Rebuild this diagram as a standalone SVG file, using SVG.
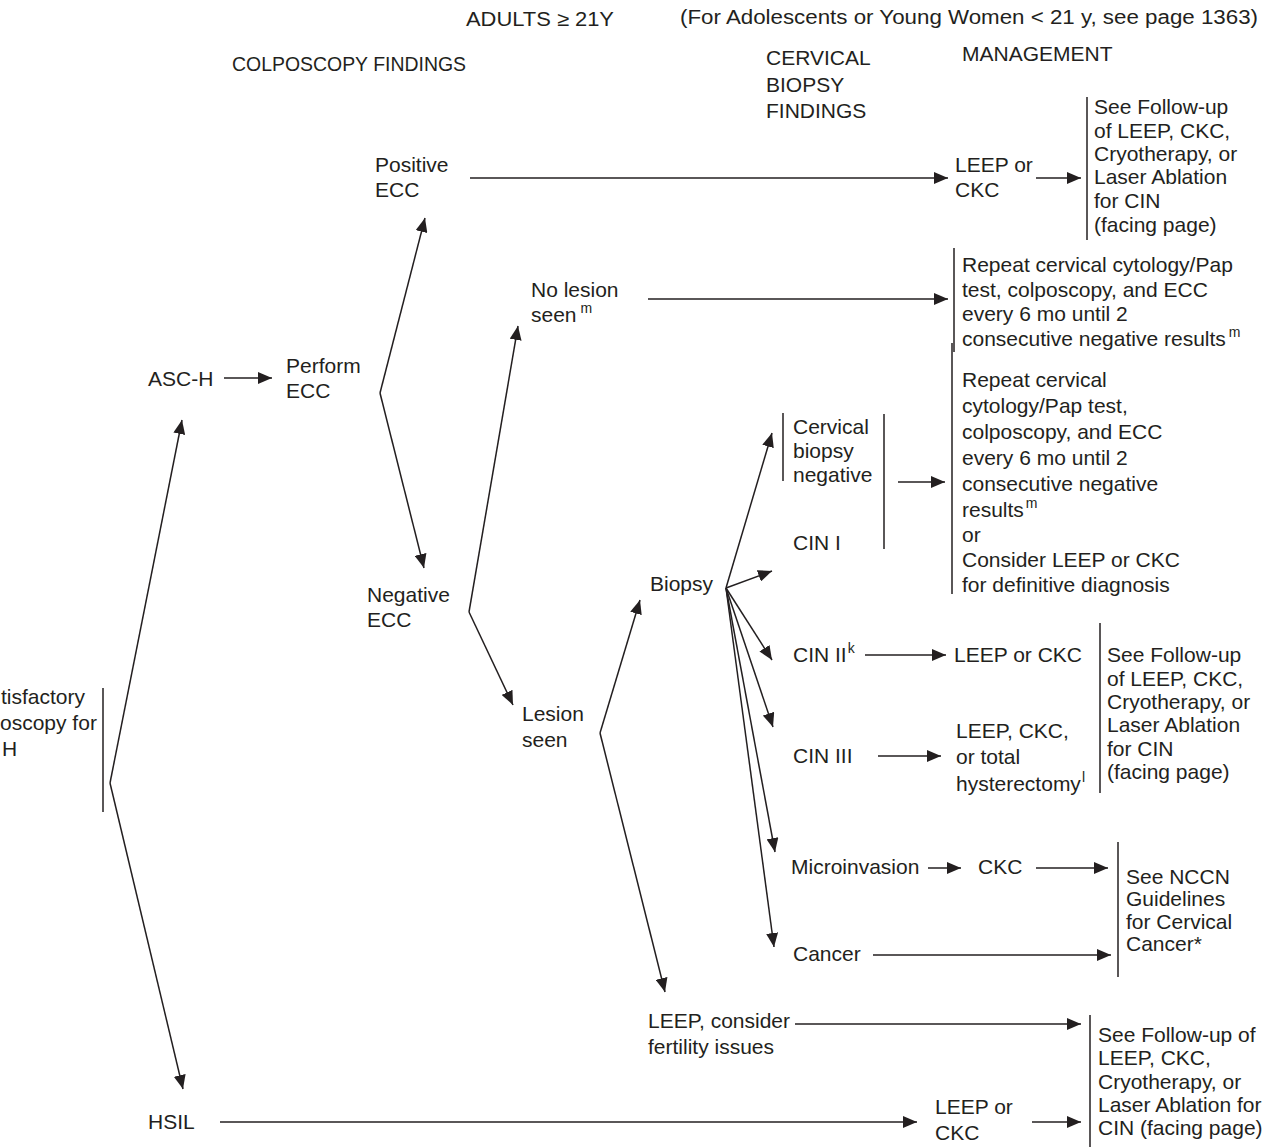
<svg xmlns="http://www.w3.org/2000/svg" width="1281" height="1147" viewBox="0 0 1281 1147">
<defs>
<marker id="ah" markerUnits="userSpaceOnUse" markerWidth="14" markerHeight="12" refX="14" refY="6" orient="auto">
<path d="M0,0 L14,6 L0,12 z" fill="#231f20"/>
</marker>
<style>
text{font-family:"Liberation Sans",Arial,sans-serif;font-size:21px;fill:#231f20}
.hd{font-size:20px}
.sup{font-size:14px}
.c line,.c polyline{stroke:#231f20;stroke-width:1.5;fill:none}
.a{marker-end:url(#ah)}
.bar{stroke:#231f20;stroke-width:1.5}
</style>
</defs>
<rect width="1281" height="1147" fill="#fff"/>

<g id="headers">
<text class="hd" x="466" y="26" textLength="148" lengthAdjust="spacingAndGlyphs">ADULTS ≥ 21Y</text>
<text class="hd" x="680" y="24" textLength="578" lengthAdjust="spacingAndGlyphs">(For Adolescents or Young Women &lt; 21 y, see page 1363)</text>
<text class="hd" x="232" y="71" textLength="234" lengthAdjust="spacingAndGlyphs">COLPOSCOPY FINDINGS</text>
<text x="766" y="65">CERVICAL</text>
<text x="766" y="92">BIOPSY</text>
<text x="766" y="118">FINDINGS</text>
<text x="962" y="61">MANAGEMENT</text>
</g>

<g id="n-unsat">
<text x="1" y="704">tisfactory</text>
<text x="0" y="730">oscopy for</text>
<text x="2" y="756">H</text>
<line class="bar" x1="103" y1="688" x2="103" y2="812"/>
</g>
<g id="n-asch"><text x="148" y="386">ASC-H</text></g>
<g id="n-perform"><text x="286" y="373">Perform</text><text x="286" y="398">ECC</text></g>
<g id="n-posecc"><text x="375" y="172">Positive</text><text x="375" y="197">ECC</text></g>
<g id="n-leep1"><text x="955" y="172">LEEP or</text><text x="955" y="197">CKC</text></g>
<g id="n-fu1">
<line class="bar" x1="1087" y1="97" x2="1087" y2="240"/>
<text x="1094" y="114">See Follow-up</text>
<text x="1094" y="138">of LEEP, CKC,</text>
<text x="1094" y="161">Cryotherapy, or</text>
<text x="1094" y="184">Laser Ablation</text>
<text x="1094" y="208">for CIN</text>
<text x="1094" y="232">(facing page)</text>
</g>
<g id="n-negecc"><text x="367" y="602">Negative</text><text x="367" y="627">ECC</text></g>
<g id="n-nolesion"><text x="531" y="297">No lesion</text><text x="531" y="322">seen<tspan class="sup" dx="4" dy="-9">m</tspan></text></g>
<g id="n-repeat1">
<line class="bar" x1="954" y1="248" x2="954" y2="352"/>
<text x="962" y="272">Repeat cervical cytology/Pap</text>
<text x="962" y="297">test, colposcopy, and ECC</text>
<text x="962" y="321">every 6 mo until 2</text>
<text x="962" y="346">consecutive negative results<tspan class="sup" dx="3" dy="-9">m</tspan></text>
</g>
<g id="n-lesion"><text x="522" y="721">Lesion</text><text x="522" y="747">seen</text></g>
<g id="n-biopsy"><text x="650" y="591">Biopsy</text></g>
<g id="n-cbneg">
<line class="bar" x1="783" y1="413" x2="783" y2="481"/>
<text x="793" y="434">Cervical</text>
<text x="793" y="458">biopsy</text>
<text x="793" y="482">negative</text>
<text x="793" y="550">CIN I</text>
<line class="bar" x1="884" y1="414" x2="884" y2="549"/>
</g>
<g id="n-repeat2">
<line class="bar" x1="952" y1="343" x2="952" y2="594"/>
<text x="962" y="387">Repeat cervical</text>
<text x="962" y="413">cytology/Pap test,</text>
<text x="962" y="439">colposcopy, and ECC</text>
<text x="962" y="465">every 6 mo until 2</text>
<text x="962" y="491">consecutive negative</text>
<text x="962" y="517">results<tspan class="sup" dx="2" dy="-9">m</tspan></text>
<text x="962" y="542">or</text>
<text x="962" y="567">Consider LEEP or CKC</text>
<text x="962" y="592">for definitive diagnosis</text>
</g>
<g id="n-cin2"><text x="793" y="662">CIN II<tspan class="sup" dx="1" dy="-9">k</tspan></text></g>
<g id="n-leep2"><text x="954" y="662">LEEP or CKC</text></g>
<g id="n-cin3"><text x="793" y="763">CIN III</text></g>
<g id="n-leep3">
<text x="956" y="738">LEEP, CKC,</text>
<text x="956" y="764">or total</text>
<text x="956" y="791">hysterectomy<tspan class="sup" dx="1" dy="-9">l</tspan></text>
</g>
<g id="n-fu2">
<line class="bar" x1="1100" y1="623" x2="1100" y2="793"/>
<text x="1107" y="662">See Follow-up</text>
<text x="1107" y="686">of LEEP, CKC,</text>
<text x="1107" y="709">Cryotherapy, or</text>
<text x="1107" y="732">Laser Ablation</text>
<text x="1107" y="756">for CIN</text>
<text x="1107" y="779">(facing page)</text>
</g>
<g id="n-micro"><text x="791" y="874">Microinvasion</text></g>
<g id="n-ckc"><text x="978" y="874">CKC</text></g>
<g id="n-cancer"><text x="793" y="961">Cancer</text></g>
<g id="n-nccn">
<line class="bar" x1="1118" y1="842" x2="1118" y2="977"/>
<text x="1126" y="884">See NCCN</text>
<text x="1126" y="906">Guidelines</text>
<text x="1126" y="929">for Cervical</text>
<text x="1126" y="951">Cancer*</text>
</g>
<g id="n-leepfert"><text x="648" y="1028">LEEP, consider</text><text x="648" y="1054">fertility issues</text></g>
<g id="n-fu3">
<line class="bar" x1="1090" y1="1015" x2="1090" y2="1147"/>
<text x="1098" y="1042">See Follow-up of</text>
<text x="1098" y="1065">LEEP, CKC,</text>
<text x="1098" y="1089">Cryotherapy, or</text>
<text x="1098" y="1112">Laser Ablation for</text>
<text x="1098" y="1135">CIN (facing page)</text>
</g>
<g id="n-hsil"><text x="148" y="1129">HSIL</text></g>
<g id="n-leep4"><text x="935" y="1114">LEEP or</text><text x="935" y="1140">CKC</text></g>

<g id="connectors" class="c">
<line class="a" x1="110" y1="783" x2="182" y2="420"/>
<line class="a" x1="110" y1="783" x2="183" y2="1089"/>
<line class="a" x1="224" y1="378" x2="272" y2="378"/>
<line class="a" x1="380" y1="393" x2="425" y2="218"/>
<line class="a" x1="380" y1="393" x2="424" y2="568"/>
<line class="a" x1="470" y1="178" x2="948" y2="178"/>
<line class="a" x1="1036" y1="178" x2="1081" y2="178"/>
<line class="a" x1="469" y1="612" x2="518" y2="326"/>
<line class="a" x1="469" y1="612" x2="513" y2="705"/>
<line class="a" x1="648" y1="299" x2="948" y2="299"/>
<line class="a" x1="600" y1="733" x2="640" y2="600"/>
<line class="a" x1="600" y1="733" x2="665" y2="992"/>
<line class="a" x1="726" y1="588" x2="772" y2="433"/>
<line class="a" x1="726" y1="588" x2="772" y2="571"/>
<line class="a" x1="726" y1="588" x2="772" y2="660"/>
<line class="a" x1="726" y1="588" x2="773" y2="727"/>
<line class="a" x1="726" y1="588" x2="775" y2="852"/>
<line class="a" x1="726" y1="588" x2="774" y2="947"/>
<line class="a" x1="898" y1="482" x2="945" y2="482"/>
<line class="a" x1="865" y1="655" x2="946" y2="655"/>
<line class="a" x1="878" y1="756" x2="941" y2="756"/>
<line class="a" x1="928" y1="868" x2="961" y2="868"/>
<line class="a" x1="1036" y1="868" x2="1108" y2="868"/>
<line class="a" x1="873" y1="955" x2="1111" y2="955"/>
<line class="a" x1="795" y1="1024" x2="1081" y2="1024"/>
<line class="a" x1="220" y1="1122" x2="917" y2="1122"/>
<line class="a" x1="1032" y1="1122" x2="1081" y2="1122"/>
</g>
</svg>
